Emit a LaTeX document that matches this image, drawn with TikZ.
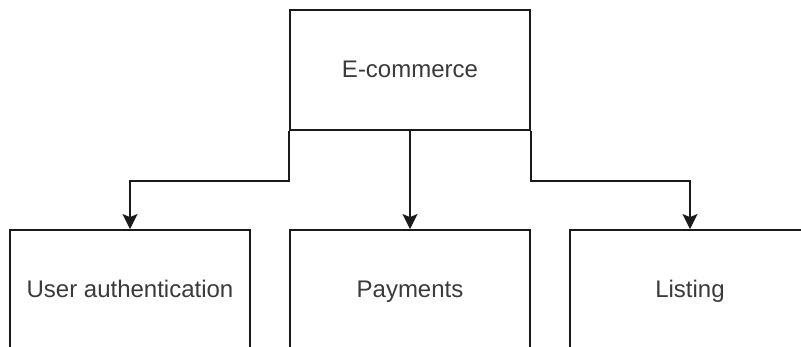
\documentclass[tikz,border=0pt]{standalone}
\usepackage{fontspec}
\setmainfont{Liberation Sans}
\usepackage{xcolor}
\usetikzlibrary{arrows.meta,positioning}
\definecolor{ink}{HTML}{1A1A1A}
\definecolor{inkgray}{HTML}{3A3A3A}
\tikzset{
  card/.style={draw=ink,fill=white,line width=1.8pt,
               minimum width=240pt,minimum height=120pt,
               align=center,inner sep=0pt,font=\fontsize{24}{28}\selectfont,
               text=inkgray,text height=19pt,text depth=4pt},
  downarr/.style={-{Stealth[length=15pt,width=15pt,inset=3pt]},
                  line width=1.8pt,draw=ink}
}
\begin{document}
\begin{tikzpicture}[x=1pt,y=-1pt]
    \clip (0,0) rectangle (801,347);
    \node[card] (ecom) at (410,70) {E-commerce};

    \node[card] (auth) at (130,290) {User authentication};
    \node[card] (pay) at (410,290) {Payments};
    \node[card] (list) at (690,290) {Listing};

    \draw[downarr] (ecom.south west) -- ++(0,50) -| (auth.north);
    \draw[downarr] (ecom.south) -- (pay.north);
    \draw[downarr] (ecom.south east) -- ++(0,50) -| (list.north);
  \end{tikzpicture}
\end{document}
